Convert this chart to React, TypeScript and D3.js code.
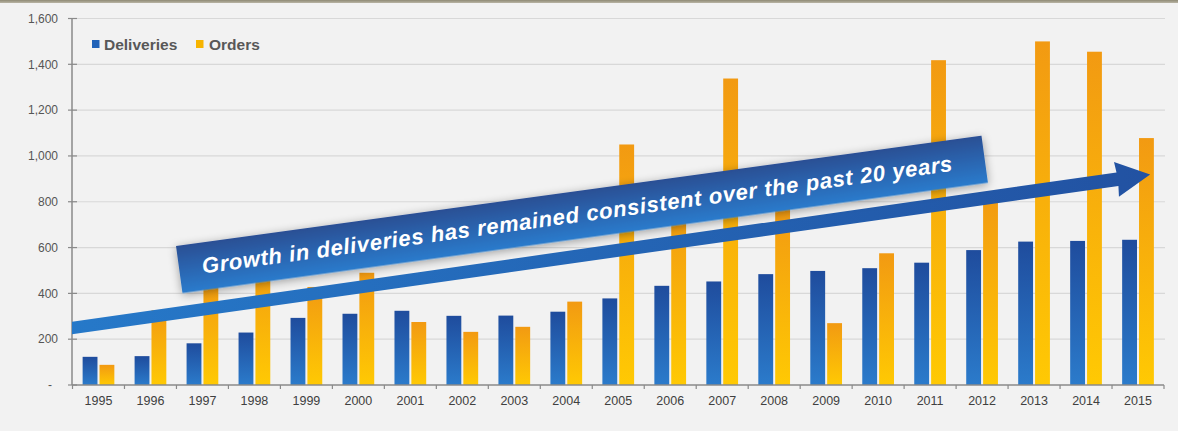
import React from "react";
import * as d3 from "d3";

const years = ["1995","1996","1997","1998","1999","2000","2001","2002","2003","2004","2005","2006","2007","2008","2009","2010","2011","2012","2013","2014","2015"];
const deliveries = [123, 126, 182, 229, 293, 311, 324, 302, 303, 320, 378, 433, 452, 484, 498, 510, 534, 589, 626, 629, 634];
const orders = [88, 326, 460, 556, 428, 490, 275, 232, 254, 364, 1050, 790, 1338, 777, 270, 575, 1418, 833, 1500, 1455, 1078];
const seriesNames = ["Deliveries", "Orders"];
const yTicks = [0, 200, 400, 600, 800, 1000, 1200, 1400, 1600];
const bannerText = "Growth in deliveries has remained consistent over the past 20 years";

const W = 1178, H = 431;
const FONT = "'Liberation Sans', Arial, Helvetica, sans-serif";

export default function App() {
  const x = d3.scaleBand<string>().domain(years).range([72.5, 1164]).paddingInner(0).paddingOuter(0);
  const xi = d3.scaleBand<string>().domain(seriesNames).range([0, x.bandwidth()]).paddingInner(0.12).paddingOuter(0.6);
  const y = d3.scaleLinear().domain([0, 1600]).range([385, 18.5]);
  const fmt = (v: number) => (v === 0 ? "-" : d3.format(",")(v));
  const data = [deliveries, orders];
  const fills = ["url(#gBlue)", "url(#gOrange)"];

  // annotation geometry (decoration)
  const arrowAngle = -8.1;
  const arrowLen = 1089;
  const bannerAngle = -7.8;

  return (
    <svg width={W} height={H} style={{ position: "absolute", left: 0, top: 0, display: "block" }} xmlns="http://www.w3.org/2000/svg">
      <defs>
        <linearGradient id="gBlue" x1="0" y1="0" x2="0" y2="1">
          <stop offset="0" stopColor="#1f4c9d" />
          <stop offset="1" stopColor="#2b7bcb" />
        </linearGradient>
        <linearGradient id="gOrange" x1="0" y1="0" x2="0" y2="1">
          <stop offset="0" stopColor="#f29a12" />
          <stop offset="1" stopColor="#ffc903" />
        </linearGradient>
        <linearGradient id="gBanner" x1="0" y1="0" x2="0" y2="1">
          <stop offset="0" stopColor="#2c4f94" />
          <stop offset="1" stopColor="#2a7bcc" />
        </linearGradient>
        <linearGradient id="gArrow" x1="0" y1="0" x2="1" y2="0">
          <stop offset="0" stopColor="#2679c9" />
          <stop offset="1" stopColor="#2252a2" />
        </linearGradient>
        <linearGradient id="gTop" x1="0" y1="0" x2="0" y2="1">
          <stop offset="0" stopColor="#8f8a75" />
          <stop offset="1" stopColor="#b9b5a5" />
        </linearGradient>
        <filter id="shadow" x="-10%" y="-50%" width="120%" height="200%">
          <feDropShadow dx="0" dy="2" stdDeviation="5" floodColor="#000" floodOpacity="0.35" />
        </filter>
        <clipPath id="plotClip">
          <rect x={72} y={0} width={W - 72} height={H} />
        </clipPath>
      </defs>

      <rect x={0} y={0} width={W} height={H} fill="#f2f2f2" />
      <rect x={0} y={0} width={W} height={3} fill="url(#gTop)" />

      {/* gridlines */}
      {yTicks.filter(t => t > 0).map(t => (
        <line key={t} x1={72} x2={1165} y1={y(t)} y2={y(t)} stroke="#d8d8d8" strokeWidth={1.2} />
      ))}

      {/* bars */}
      {years.map((yr, i) => (
        <g key={yr} transform={`translate(${x(yr)},0)`}>
          {seriesNames.map((s, k) => (
            <rect key={s} x={xi(s)} y={y(data[k][i])} width={xi.bandwidth()} height={y(0) - y(data[k][i])} fill={fills[k]} />
          ))}
        </g>
      ))}

      {/* y axis */}
      <line x1={72} x2={72} y1={y(1600)} y2={y(0)} stroke="#8a8a8a" strokeWidth={1.5} />
      {yTicks.map(t => (
        <g key={t}>
          <line x1={68} x2={77} y1={y(t)} y2={y(t)} stroke="#8a8a8a" strokeWidth={1.2} />
          <text x={t === 0 ? 52 : 58} y={y(t)} dy="0.35em" textAnchor="end" fontFamily={FONT} fontSize={12} fill="#555">{fmt(t)}</text>
        </g>
      ))}

      {/* x axis */}
      <line x1={72} x2={1164} y1={y(0)} y2={y(0)} stroke="#8a8a8a" strokeWidth={1.5} />
      {years.concat(["end"]).map((yr, i) => {
        const xx = i < years.length ? (x(yr) as number) : 1164;
        return <line key={"t" + i} x1={xx} x2={xx} y1={y(0)} y2={y(0) + 4} stroke="#8a8a8a" strokeWidth={1.2} />;
      })}
      {years.map(yr => (
        <text key={"l" + yr} x={(x(yr) as number) + x.bandwidth() / 2} y={405} textAnchor="middle" fontFamily={FONT} fontSize={12.5} fill="#404040">{yr}</text>
      ))}

      {/* legend */}
      <rect x={92} y={40} width={7.5} height={8} fill="#2062b8" />
      <text x={104} y={50} fontFamily={FONT} fontSize={15.5} fontWeight="bold" fill="#585858">{seriesNames[0]}</text>
      <rect x={196} y={40} width={7.5} height={8} fill="#f7b400" />
      <text x={209} y={50} fontFamily={FONT} fontSize={15.5} fontWeight="bold" fill="#585858">{seriesNames[1]}</text>

      {/* thin arrow */}
      <g clipPath="url(#plotClip)">
        <g transform={`translate(72,328) rotate(${arrowAngle})`}>
          <path d={`M-10,-6.2 L${arrowLen - 33},-6.8 L${arrowLen - 34},-17.5 L${arrowLen},0 L${arrowLen - 34},17.5 L${arrowLen - 33},6.8 L-10,6.2 Z`} fill="url(#gArrow)" />
        </g>
      </g>

      {/* banner */}
      <g transform={`translate(176,246) rotate(${bannerAngle})`}>
        <rect x={0} y={0} width={813} height={47.5} fill="url(#gBanner)" filter="url(#shadow)" />
        <text x={23} y={31} fontFamily={FONT} fontSize={22} fontWeight="bold" fontStyle="italic" fill="#ffffff" textLength={757} lengthAdjust="spacing">{bannerText}</text>
      </g>
    </svg>
  );
}
